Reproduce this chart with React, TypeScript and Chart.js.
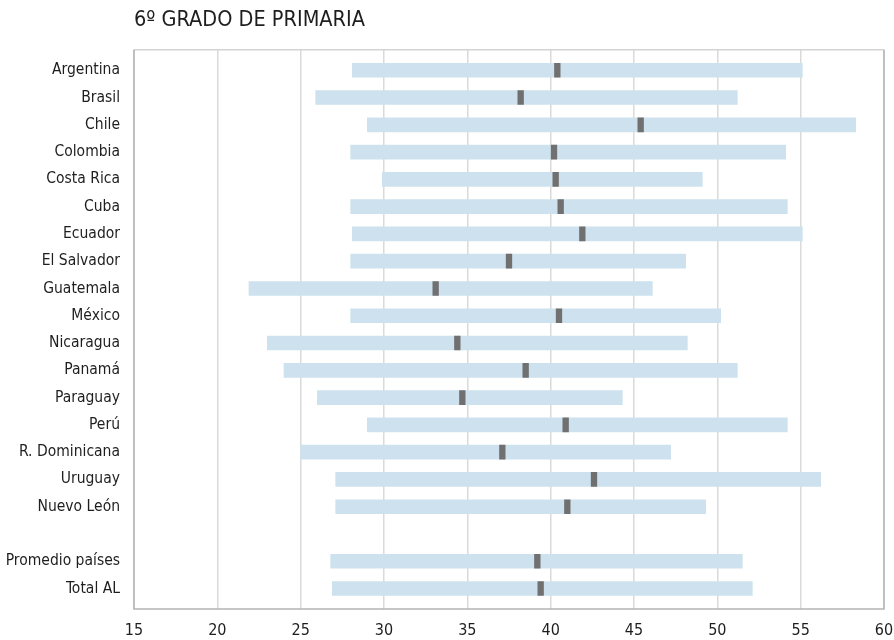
import React, { useEffect, useRef } from "react";
import { Chart, registerables } from "chart.js";

Chart.register(...registerables);

const categories = [
  "Argentina", "Brasil", "Chile", "Colombia", "Costa Rica", "Cuba", "Ecuador",
  "El Salvador", "Guatemala", "México", "Nicaragua", "Panamá", "Paraguay", "Perú",
  "R. Dominicana", "Uruguay", "Nuevo León", "", "Promedio países", "Total AL",
];
const lowValues = [28.1, 25.9, 29.0, 28.0, 29.9, 28.0, 28.1, 28.0, 21.9, 28.0, 23.0, 24.0, 26.0, 29.0, 25.0, 27.1, 27.1, null, 26.8, 26.9];
const highValues = [55.1, 51.2, 58.3, 54.1, 49.1, 54.2, 55.1, 48.1, 46.1, 50.2, 48.2, 51.2, 44.3, 54.2, 47.2, 56.2, 49.3, null, 51.5, 52.1];
const medianValues = [40.4, 38.2, 45.4, 40.2, 40.3, 40.6, 41.9, 37.5, 33.1, 40.5, 34.4, 38.5, 34.7, 40.9, 37.1, 42.6, 41.0, null, 39.2, 39.4];
const xMin = 15;
const xMax = 60;
const xStep = 5;
const titleText = "6º GRADO DE PRIMARIA";

const FONT = "'DejaVu Sans Condensed', 'DejaVu Sans', sans-serif";
const MARK_HALF = 0.17;

const borderPlugin = {
  id: "plotBorder",
  afterDraw(chart: any) {
    const { ctx, chartArea: a } = chart;
    ctx.save();
    ctx.lineWidth = 1.5;
    ctx.strokeStyle = "#d4d4d4";
    ctx.beginPath();
    ctx.moveTo(a.left, a.top);
    ctx.lineTo(a.right, a.top);
    ctx.stroke();
    ctx.strokeStyle = "#b4b4b4";
    ctx.beginPath();
    ctx.moveTo(a.left, a.top);
    ctx.lineTo(a.left, a.bottom);
    ctx.lineTo(a.right, a.bottom);
    ctx.lineTo(a.right, a.top);
    ctx.stroke();
    ctx.restore();
  },
};

export default function App() {
  const ref = useRef<HTMLCanvasElement | null>(null);

  useEffect(() => {
    if (!ref.current) return;
    const rangeData: any[] = [];
    const medianData: any[] = [];
    categories.forEach((_, i) => {
      const lo = lowValues[i];
      const hi = highValues[i];
      const m = medianValues[i];
      if (lo == null || hi == null || m == null) return;
      rangeData.push({ x: [lo, hi], y: i });
      medianData.push({ x: [m - MARK_HALF, m + MARK_HALF], y: i });
    });

    const chart = new Chart(ref.current, {
      type: "bar",
      data: {
        datasets: [
          {
            label: "Rango",
            data: rangeData,
            backgroundColor: "#cde2ee",
            barThickness: 14,
            grouped: false,
            order: 2,
          } as any,
          {
            label: "Mediana",
            data: medianData,
            backgroundColor: "#707070",
            barThickness: 14,
            grouped: false,
            order: 1,
          } as any,
        ],
      },
      options: {
        indexAxis: "y",
        responsive: false,
        animation: false,
        devicePixelRatio: 1,
        layout: { padding: { left: 0, right: 10, top: 0, bottom: 0 } },
        plugins: {
          legend: { display: false },
          tooltip: { enabled: false },
          title: {
            display: true,
            text: titleText,
            align: "start",
            fullSize: false,
            color: "#1e1e1e",
            font: { family: FONT, size: 21.5, style: "normal", weight: "condensed" },
            padding: { top: 8, bottom: 16 },
          },
        },
        scales: {
          x: {
            type: "linear",
            min: xMin,
            max: xMax,
            afterFit: (scale: any) => {
              scale.paddingLeft = 0;
              scale.paddingRight = 0;
              scale.height = 31;
            },
            ticks: {
              stepSize: xStep,
              color: "#1e1e1e",
              font: { family: FONT, size: 16, style: "normal", weight: "condensed" },
              padding: 12,
            },
            grid: { color: "#dadada", lineWidth: 1.5, drawTicks: false },
            border: { display: false },
          },
          y: {
            type: "linear",
            reverse: true,
            offset: false,
            min: -0.75,
            max: categories.length - 0.25,
            afterBuildTicks: (scale: any) => {
              scale.ticks = categories.map((_, i) => ({ value: i }));
            },
            afterFit: (scale: any) => {
              scale.width = 134;
              scale.paddingTop = 0;
              scale.paddingBottom = 0;
            },
            ticks: {
              autoSkip: false,
              color: "#1e1e1e",
              font: { family: FONT, size: 15.5, style: "normal", weight: "condensed" },
              padding: 14,
              callback: (v: any) => categories[v] ?? "",
            },
            grid: { display: false, drawTicks: false, offset: false },
            border: { display: false },
          },
        },
      },
      plugins: [borderPlugin],
    } as any);

    return () => chart.destroy();
  }, []);

  return (
    <div style={{ position: "fixed", left: 0, top: 0, width: 894, height: 640, background: "#fff" }}>
      <canvas ref={ref} width={894} height={640} />
    </div>
  );
}
